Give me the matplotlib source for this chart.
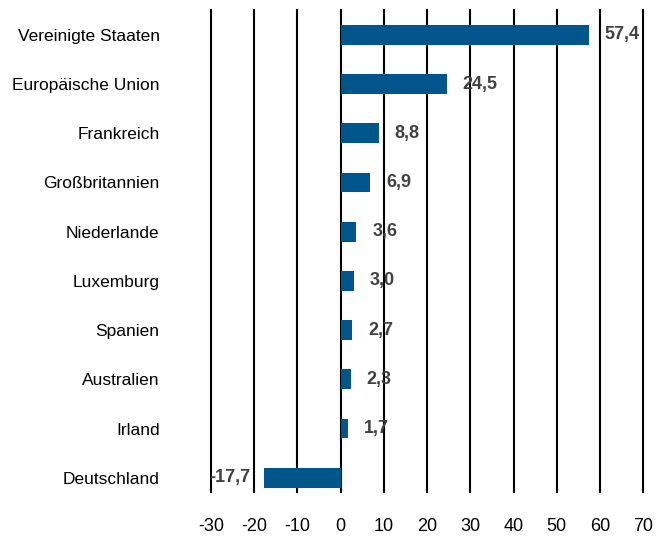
import matplotlib
matplotlib.use("Agg")
import matplotlib.pyplot as plt

countries = ["Vereinigte Staaten", "Europäische Union", "Frankreich", "Großbritannien",
             "Niederlande", "Luxemburg", "Spanien", "Australien", "Irland", "Deutschland"]
values = [57.4, 24.5, 8.8, 6.9, 3.6, 3.0, 2.7, 2.3, 1.7, -17.7]
ticks = [-30, -20, -10, 0, 10, 20, 30, 40, 50, 60, 70]

plt.rcParams['font.family'] = ['Liberation Sans', 'DejaVu Sans']

fig = plt.figure(figsize=(6.71, 5.36), dpi=100)
ax = fig.add_axes([0.3145, 0.082, 0.644, 0.899])

ypos = list(range(len(countries)))[::-1]
ax.barh(ypos, values, height=0.4, color="#00558a", zorder=3)

# value labels next to bar ends
for y, v in zip(ypos, values):
    lab = f"{v:.1f}".replace(".", ",")
    if v >= 0:
        ax.annotate(lab, (v, y), xytext=(11.5, 0), textcoords="offset points",
                    ha="left", va="center", fontsize=13, fontweight="bold", color="#404040", zorder=4)
    else:
        ax.annotate(lab, (v, y), xytext=(-10, 0), textcoords="offset points",
                    ha="right", va="center", fontsize=13, fontweight="bold", color="#404040", zorder=4)

ax.set_xlim(-30, 70)
ax.set_ylim(-0.29, 9.5)
ax.set_xticks(ticks)
ax.set_xticklabels([str(t) for t in ticks])
ax.set_yticks(ypos)
ax.set_yticklabels(countries)
ax.grid(axis="x", color="black", linewidth=1.5, zorder=1)
for line in ax.get_xgridlines():
    line.set_clip_on(False)
for s in ax.spines.values():
    s.set_visible(False)
ax.tick_params(axis="x", length=0, pad=19, labelsize=13)
ax.tick_params(axis="y", length=0, pad=37, labelsize=12.5)

fig.savefig("out.png", dpi=100)
